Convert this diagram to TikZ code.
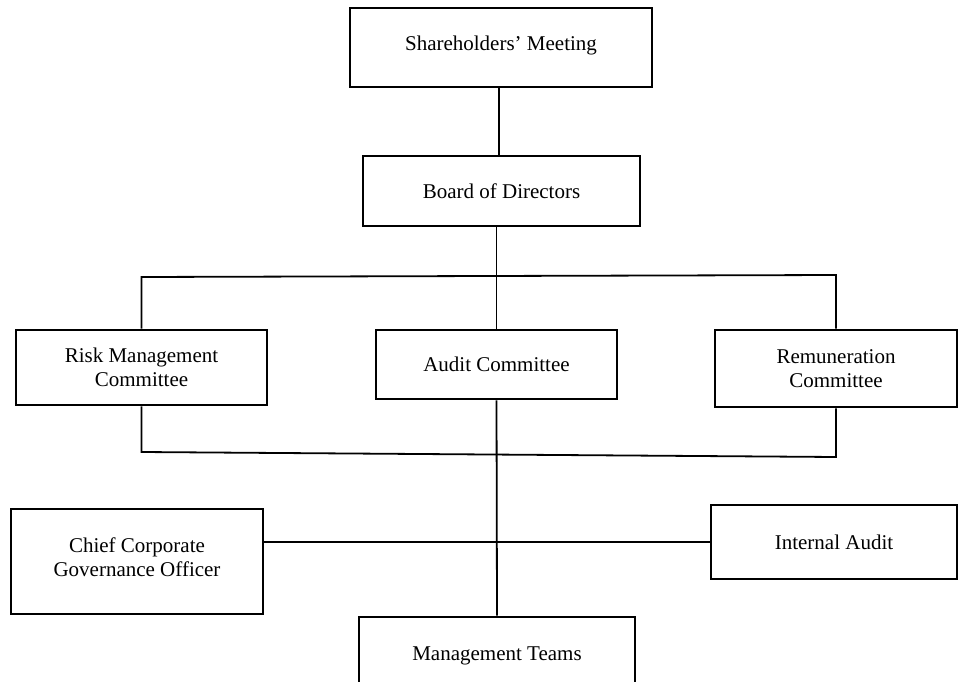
\documentclass[tikz,border=0pt]{standalone}
\usepackage{fontspec}
\setmainfont{Liberation Serif}
\begin{document}
\begin{tikzpicture}[x=1pt,y=-1pt,
  box/.style={draw, line width=2.6pt, inner sep=0pt, align=center,
    font=\fontsize{21}{23.5}\selectfont},
  conn/.style={line width=1.8pt}]
\clip (0,0) rectangle (958,682);
\node[box, minimum width=302pt, minimum height=79pt] (sm) at (501,47.5) {Shareholders’ Meeting\rule[-8pt]{0pt}{0pt}};
\node[box, minimum width=277pt, minimum height=70pt] (bod) at (501.5,191) {Board of Directors};
\node[box, minimum width=251pt, minimum height=75pt] (rm) at (141.5,367.5) {Risk Management\\Committee};
\node[box, minimum width=241pt, minimum height=69pt] (ac) at (496.5,364.5) {Audit Committee};
\node[box, minimum width=242pt, minimum height=77pt] (rem) at (836,368.5) {Remuneration\\Committee};
\node[box, minimum width=252pt, minimum height=105pt] (ccgo) at (137,561.5) {Chief Corporate\\Governance Officer\rule[-9pt]{0pt}{0pt}};
\node[box, minimum width=246pt, minimum height=74pt] (ia) at (834,542) {Internal Audit};
\node[box, minimum width=276pt, minimum height=70pt] (mt) at (497,652) {\rule{0pt}{21pt}Management Teams};
% connectors
\draw[conn] (sm.south -| 499,0) -- (bod.north -| 499,0);
\draw[conn] (ac.north |- bod.south) -- (ac.north);
\draw[conn] (rm.north) -- (rm.north |- 0,277) -- (rem.north |- 0,275) -- (rem.north);
\draw[conn] (rm.south) -- (rm.south |- 0,452) -- (rem.south |- 0,457) -- (rem.south);
\draw[conn] (ac.south) -- (mt.north);
\draw[conn] (ia.west -| ccgo.east) -- (ia.west);
\end{tikzpicture}
\end{document}
